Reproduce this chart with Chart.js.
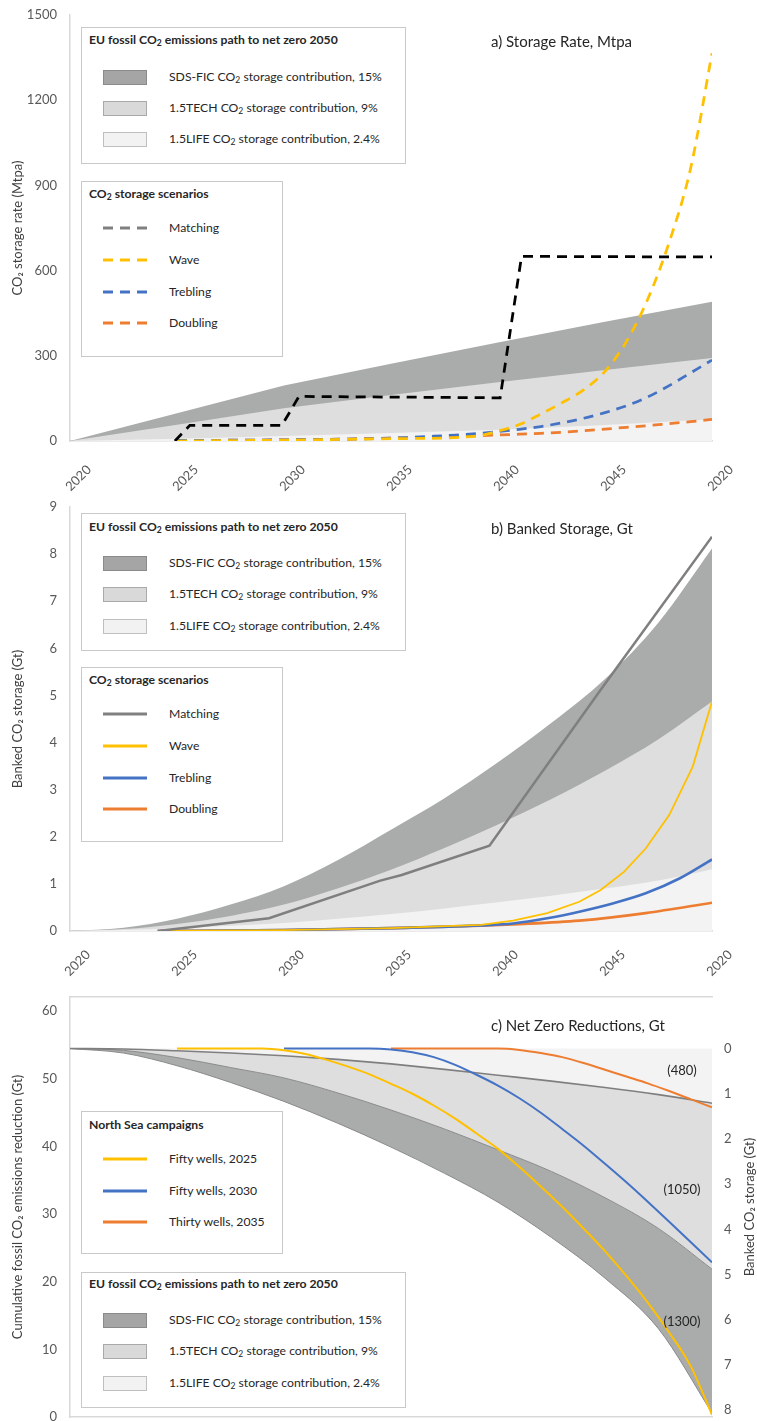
<!DOCTYPE html>
<html>
<head>
<meta charset="utf-8">
<script src="https://cdn.jsdelivr.net/npm/chart.js@4.4.1/dist/chart.umd.min.js"></script>
<style>
  body { margin: 0; background: #fff; }
  #wrap { position: relative; width: 757px; height: 1421px; overflow: hidden; font-family: Lato, "Open Sans", sans-serif; color: #262626; }
  canvas { position: absolute; left: 0; }
  .box { position: absolute; background: #fff; border: 1px solid #c9c9c9; box-sizing: border-box; font-size: 12.2px; }
  .ttl { position: absolute; left: 7px; font-weight: bold; white-space: nowrap; line-height: 16px; }
  .sw { position: absolute; left: 21px; width: 44px; height: 15px; box-sizing: border-box; }
  .ln { position: absolute; left: 21px; }
  .lbl { position: absolute; left: 87px; white-space: nowrap; line-height: 18px; }
  .ptitle { position: absolute; left: 491px; font-size: 15px; white-space: nowrap; }
  sub { font-size: 70%; vertical-align: -2px; line-height: 0; }
</style>
</head>
<body>
<div id="wrap">
  <canvas id="chartA" width="757" height="495" style="top:0"></canvas>
  <canvas id="chartB" width="757" height="485" style="top:495px"></canvas>
  <canvas id="chartC" width="757" height="441" style="top:980px"></canvas>
  <div class="ptitle" style="top:32px">a) Storage Rate, Mtpa</div>
  <div class="ptitle" style="top:519px">b) Banked Storage, Gt</div>
  <div class="ptitle" style="top:1016px">c) Net Zero Reductions, Gt</div>
</div>
<script>
// ---- a) storage rate, Mtpa ----
const rateYears = [2020, 2025, 2030, 2035, 2040, 2045, 2050];
const rateSDS  = [0, 98, 195, 272, 347, 420, 490];
const rateTECH = [0, 57, 115, 162, 207, 250, 292];
const rateLIFE = [0, 8, 18, 28, 40, 56, 77];

const matchRateYears = [2024.9, 2025.6, 2029.9, 2030.7, 2040.1, 2041.1, 2050];
const matchRate      = [0, 55, 55, 157, 152, 650, 648];
const waveRateYears  = [2025, 2030, 2035, 2039, 2040, 2041, 2042, 2043, 2044, 2045, 2046, 2047, 2048, 2049, 2050];
const waveRate       = [0, 3, 8, 17, 35, 58, 95, 135, 180, 245, 350, 500, 700, 960, 1365];
const trebRateYears  = [2025, 2030, 2035, 2036, 2037, 2038, 2039, 2040, 2041, 2042, 2043, 2044, 2045, 2046, 2047, 2048, 2049, 2050];
const trebRate       = [2, 4, 10, 13, 17, 21, 26, 33, 41, 51, 64, 80, 100, 124, 155, 195, 240, 285];
const doubRateYears  = [2025, 2030, 2035, 2040, 2041, 2042, 2043, 2044, 2045, 2046, 2047, 2048, 2049, 2050];
const doubRate       = [2, 4, 10, 21, 24, 27, 31, 36, 42, 48, 54, 61, 68, 76];

// ---- b) banked storage, Gt ----
const bankYears = [2020, 2022.5, 2025, 2027.5, 2030, 2032.5, 2035, 2037.5, 2040, 2042.5, 2045, 2047.5, 2050];
const bankSDS  = [0, 0.07, 0.26, 0.56, 0.95, 1.5, 2.15, 2.82, 3.58, 4.42, 5.35, 6.55, 8.12];
const bankTECH = [0, 0.04, 0.15, 0.32, 0.56, 0.9, 1.3, 1.76, 2.26, 2.8, 3.4, 4.07, 4.87];
const bankLIFE = [0, 0.02, 0.06, 0.11, 0.17, 0.26, 0.36, 0.48, 0.61, 0.75, 0.9, 1.07, 1.31];

const matchBankYears = [2024.1, 2029.3, 2034.5, 2035.5, 2039.6, 2044.8, 2050];
const matchBank      = [0, 0.27, 1.07, 1.19, 1.81, 5.12, 8.37];
const waveBankYears  = [2024.1, 2030, 2035, 2039.2, 2040.7, 2042.3, 2043.8, 2044.8, 2045.9, 2046.9, 2048, 2049.1, 2050];
const waveBank       = [0, 0.02, 0.06, 0.13, 0.22, 0.38, 0.62, 0.87, 1.26, 1.75, 2.46, 3.49, 4.87];
const trebBankYears  = [2024.1, 2030, 2035, 2039.2, 2040.7, 2042.3, 2043.8, 2045.4, 2046.9, 2048.5, 2050];
const trebBank       = [0, 0.02, 0.06, 0.12, 0.16, 0.27, 0.41, 0.59, 0.8, 1.12, 1.52];
const doubBankYears  = [2024.1, 2030, 2035, 2039.2, 2040.7, 2043.8, 2046.9, 2050];
const doubBank       = [0, 0.02, 0.06, 0.11, 0.14, 0.22, 0.38, 0.6];

// ---- c) net zero reductions (plotted as banked Gt on the right axis) ----
const pathYears = [2020, 2022.5, 2025, 2027.5, 2030, 2032.5, 2035, 2037.5, 2040, 2042.5, 2045, 2047.5, 2050];
const pathTop  = [0, 0, 0, 0, 0, 0, 0, 0, 0, 0, 0, 0, 0];
const pathLIFE = [0, 0.01, 0.05, 0.1, 0.16, 0.24, 0.34, 0.46, 0.59, 0.72, 0.86, 1.02, 1.21];
const pathTECH = [0, 0.04, 0.2, 0.42, 0.65, 0.98, 1.36, 1.78, 2.24, 2.72, 3.3, 3.98, 4.88];
const pathSDS  = [0, 0.1, 0.38, 0.75, 1.17, 1.65, 2.18, 2.76, 3.4, 4.18, 5.08, 6.2, 8.06];

const wells2025Years = [2025, 2026, 2027, 2028, 2029, 2030, 2031, 2032, 2033, 2034, 2035, 2036, 2037, 2038, 2039, 2040, 2041, 2042, 2043, 2044, 2045, 2046, 2047, 2048, 2049, 2050];
const wells2025 = [0, 0, 0, 0, 0, 0.04, 0.12, 0.25, 0.4, 0.57, 0.78, 1.0, 1.26, 1.55, 1.88, 2.22, 2.62, 3.05, 3.5, 3.98, 4.48, 5.03, 5.62, 6.28, 7.02, 8.1];
const wells2030Years = [2030, 2031, 2032, 2033, 2034, 2035, 2036, 2037, 2038, 2039, 2040, 2041, 2042, 2043, 2044, 2045, 2046, 2047, 2048, 2049, 2050];
const wells2030 = [0, 0, 0, 0, 0, 0.02, 0.08, 0.19, 0.36, 0.58, 0.82, 1.1, 1.42, 1.78, 2.15, 2.55, 2.96, 3.39, 3.83, 4.28, 4.73];
const wells2035Years = [2035, 2036, 2037, 2038, 2039, 2040, 2041, 2042, 2043, 2044, 2045, 2046, 2047, 2048, 2049, 2050];
const wells2035 = [0, 0, 0, 0, 0, 0, 0.03, 0.1, 0.19, 0.32, 0.47, 0.62, 0.77, 0.94, 1.12, 1.3];

const noteLabels = ['(480)', '(1050)', '(1300)'];
const noteYear = 2048.6;
const noteGt = [0.5, 3.13, 6.04];

const xTickYears = [2020, 2025, 2030, 2035, 2040, 2045, 2050];
const xTickText  = ['2020', '2025', '2030', '2035', '2040', '2045', '2020'];
const leftTicksA = [0, 300, 600, 900, 1200, 1500];
const leftTicksB = [0, 1, 2, 3, 4, 5, 6, 7, 8, 9];
const leftTicksC = [0, 10, 20, 30, 40, 50, 60];
const rightTicksC = [0, 1, 2, 3, 4, 5, 6, 7, 8];

const FONT = 'Lato, "Open Sans", sans-serif';
const DARK = '#a9acab', LIGHT = '#dedede', LIGHTEST = '#f3f3f3';
const YELLOW = '#ffc000', BLUE = '#4472c4', ORANGE = '#ed7d31', GREY = '#7f7f7f';
const AXIS = '#d9d9d9';

Chart.defaults.font.family = FONT;
Chart.defaults.font.size = 13;
Chart.defaults.color = '#595959';

const pts = (xs, ys) => xs.map((x, i) => ({ x: x, y: ys[i] }));

function area(label, xs, ys, color, order, fill, extra) {
  return Object.assign({
    label: label, data: pts(xs, ys), backgroundColor: color, borderWidth: 0,
    pointRadius: 0, fill: fill, order: order, cubicInterpolationMode: 'monotone'
  }, extra || {});
}
function line(label, xs, ys, color, width, order, extra) {
  return Object.assign({
    label: label, data: pts(xs, ys), borderColor: color, borderWidth: width,
    pointRadius: 0, fill: false, order: order, cubicInterpolationMode: 'monotone'
  }, extra || {});
}

function fixTicks(list) {
  return s => { s.ticks = list.map(v => ({ value: v })); };
}

function xAxis(height, pad, offset) {
  return {
    type: 'linear', min: 2020, max: 2050,
    grid: { display: false, drawTicks: false },
    border: { color: AXIS, width: 1.5 },
    afterBuildTicks: fixTicks(xTickYears),
    ticks: {
      autoSkip: false, minRotation: 45, maxRotation: 45, padding: pad, labelOffset: offset,
      callback: v => xTickText[xTickYears.indexOf(v)]
    },
    afterFit: s => { s.height = height; s.paddingLeft = 0; s.paddingRight = 0; }
  };
}

function yAxis(min, max, ticks, title) {
  return {
    type: 'linear', position: 'left', min: min, max: max,
    grid: { display: false, drawTicks: false },
    border: { color: AXIS, width: 1.5 },
    afterBuildTicks: fixTicks(ticks),
    ticks: { padding: 13, callback: v => String(v) },
    title: { display: true, text: title, color: '#404040', font: { size: 13 }, padding: { top: 10, bottom: 0 } },
    afterFit: s => { s.width = 70; s.paddingTop = 0; s.paddingBottom = 0; }
  };
}

const baseOpts = {
  responsive: false, animation: false, devicePixelRatio: 1,
  plugins: { legend: { display: false }, tooltip: { enabled: false } },
  elements: { line: { borderCapStyle: 'butt' } }
};

// panel a
new Chart(document.getElementById('chartA'), {
  type: 'line',
  data: {
    datasets: [
      line('Matching', matchRateYears, matchRate, '#000', 2.75, 0, { borderDash: [10, 7], cubicInterpolationMode: 'default', tension: 0 }),
      line('Wave', waveRateYears, waveRate, YELLOW, 2.75, 1, { borderDash: [10, 7] }),
      line('Trebling', trebRateYears, trebRate, BLUE, 2.75, 2, { borderDash: [10, 7] }),
      line('Doubling', doubRateYears, doubRate, ORANGE, 2.75, 3, { borderDash: [10, 7] }),
      area('1.5LIFE', rateYears, rateLIFE, LIGHTEST, 4, 'origin', { cubicInterpolationMode: 'default', tension: 0 }),
      area('1.5TECH', rateYears, rateTECH, LIGHT, 5, 'origin', { cubicInterpolationMode: 'default', tension: 0 }),
      area('SDS-FIC', rateYears, rateSDS, DARK, 6, 'origin', { cubicInterpolationMode: 'default', tension: 0 })
    ]
  },
  options: Object.assign({}, baseOpts, {
    layout: { padding: { top: 15, right: 45, left: 0, bottom: 0 } },
    scales: {
      x: xAxis(54, 21, 19),
      y: yAxis(0, 1500, leftTicksA, 'CO₂ storage rate (Mtpa)')
    }
  })
});

// panel b
new Chart(document.getElementById('chartB'), {
  type: 'line',
  data: {
    datasets: [
      line('Matching', matchBankYears, matchBank, GREY, 2.5, 0, { cubicInterpolationMode: 'default', tension: 0 }),
      line('Wave', waveBankYears, waveBank, YELLOW, 1.8, 1, { cubicInterpolationMode: 'default', tension: 0 }),
      line('Trebling', trebBankYears, trebBank, BLUE, 2.6, 2),
      line('Doubling', doubBankYears, doubBank, ORANGE, 2.6, 3),
      area('1.5LIFE', bankYears, bankLIFE, LIGHTEST, 4, 'origin'),
      area('1.5TECH', bankYears, bankTECH, LIGHT, 5, 'origin'),
      area('SDS-FIC', bankYears, bankSDS, DARK, 6, 'origin')
    ]
  },
  options: Object.assign({}, baseOpts, {
    layout: { padding: { top: 12, right: 45, left: 0, bottom: 0 } },
    scales: {
      x: xAxis(49, 16, 18),
      y: yAxis(0, 9, leftTicksB, 'Banked CO₂ storage (Gt)')
    }
  })
});

// panel c
const cNotes = {
  id: 'cNotes',
  afterDraw(chart) {
    const { ctx, chartArea } = chart;
    const x = chart.scales.x, yR = chart.scales.yR;
    ctx.save();
    ctx.font = '13px ' + FONT;
    ctx.fillStyle = '#262626';
    ctx.textAlign = 'center';
    ctx.textBaseline = 'middle';
    noteLabels.forEach((t, i) => ctx.fillText(t, x.getPixelForValue(noteYear), yR.getPixelForValue(noteGt[i])));
    ctx.fillStyle = '#404040';
    ctx.translate(chartArea.right + 38, (chartArea.top + chartArea.bottom) / 2);
    ctx.rotate(-Math.PI / 2);
    ctx.fillText('Banked CO₂ storage (Gt)', 0, 0);
    ctx.restore();
  }
};

const edge = { borderColor: '#8a8a8a', borderWidth: 1 };
new Chart(document.getElementById('chartC'), {
  type: 'line',
  data: {
    datasets: [
      area('top', pathYears, pathTop, 'rgba(0,0,0,0)', 7, false, { yAxisID: 'yR' }),
      area('1.5LIFE', pathYears, pathLIFE, LIGHTEST, 4, '-1', { yAxisID: 'yR', borderColor: '#7f7f7f', borderWidth: 1.6 }),
      area('1.5TECH', pathYears, pathTECH, LIGHT, 5, '-1', Object.assign({ yAxisID: 'yR' }, edge)),
      area('SDS-FIC', pathYears, pathSDS, DARK, 6, '-1', Object.assign({ yAxisID: 'yR' }, edge)),
      line('Thirty wells, 2035', wells2035Years, wells2035, ORANGE, 2, 2, { yAxisID: 'yR' }),
      line('Fifty wells, 2030', wells2030Years, wells2030, BLUE, 2, 1, { yAxisID: 'yR' }),
      line('Fifty wells, 2025', wells2025Years, wells2025, YELLOW, 2, 0, { yAxisID: 'yR' })
    ]
  },
  options: Object.assign({}, baseOpts, {
    layout: { padding: { top: 17, right: 0, left: 0, bottom: 4 } },
    scales: {
      x: {
        type: 'linear', position: 'bottom', min: 2020, max: 2050,
        grid: { display: false, drawTicks: false }, ticks: { display: false },
        border: { color: AXIS, width: 1.5 },
        afterFit: s => { s.height = 0; s.paddingLeft = 0; s.paddingRight = 0; }
      },
      xTop: {
        type: 'linear', position: 'top', min: 2020, max: 2050,
        grid: { display: false, drawTicks: false }, ticks: { display: false },
        border: { color: AXIS, width: 1.5 },
        afterFit: s => { s.height = 0; s.paddingLeft = 0; s.paddingRight = 0; }
      },
      yL: yAxis(0, 62.07, leftTicksC, 'Cumulative fossil CO₂ emissions reduction (Gt)'),
      yR: {
        type: 'linear', position: 'right', reverse: true, min: -1.14, max: 8.15,
        grid: { display: false, drawTicks: false },
        border: { display: false },
        afterBuildTicks: fixTicks(rightTicksC),
        ticks: { padding: 12, callback: v => String(v) },
        afterFit: s => { s.width = 45; s.paddingTop = 0; s.paddingBottom = 0; }
      }
    }
  }),
  plugins: [cNotes]
});

// legends
const wrap = document.getElementById('wrap');
const fillItems = [
  { kind: 'fill', fill: '#a5a5a5', edge: '#8a8a8a', label: 'SDS-FIC CO<sub>2</sub> storage contribution, 15%' },
  { kind: 'fill', fill: '#d9d9d9', edge: '#a9a9a9', label: '1.5TECH CO<sub>2</sub> storage contribution, 9%' },
  { kind: 'fill', fill: '#f2f2f2', edge: '#bfbfbf', label: '1.5LIFE CO<sub>2</sub> storage contribution, 2.4%' }
];
const fillTitle = 'EU fossil CO<sub>2</sub> emissions path to net zero 2050';
const scenarioNames = ['Matching', 'Wave', 'Trebling', 'Doubling'];
const scenarioColors = ['#808080', YELLOW, BLUE, ORANGE];
const campaignNames = ['Fifty wells, 2025', 'Fifty wells, 2030', 'Thirty wells, 2035'];
const campaignColors = [YELLOW, BLUE, ORANGE];

function addBox(x, y, w, h, title, ty, items, iy) {
  const d = document.createElement('div');
  d.className = 'box';
  Object.assign(d.style, { left: x + 'px', top: y + 'px', width: w + 'px', height: h + 'px' });
  let html = '<div class="ttl" style="top:' + (ty - 8) + 'px">' + title + '</div>';
  items.forEach((it, i) => {
    const cy = iy[i];
    if (it.kind === 'fill') {
      html += '<div class="sw" style="top:' + (cy - 8) + 'px;background:' + it.fill + ';border:1.5px solid ' + it.edge + '"></div>';
    } else {
      html += '<svg class="ln" style="top:' + (cy - 4) + 'px" width="44" height="6"><line x1="0" y1="3" x2="44" y2="3" stroke="' + it.color +
        '" stroke-width="3"' + (it.kind === 'dash' ? ' stroke-dasharray="10 7"' : '') + '/></svg>';
    }
    html += '<div class="lbl" style="top:' + (cy - 10) + 'px">' + it.label + '</div>';
  });
  d.innerHTML = html;
  wrap.appendChild(d);
}

const scenDash = scenarioNames.map((n, i) => ({ kind: 'dash', color: scenarioColors[i], label: n }));
const scenLine = scenarioNames.map((n, i) => ({ kind: 'line', color: scenarioColors[i], label: n }));
const campLine = campaignNames.map((n, i) => ({ kind: 'line', color: campaignColors[i], label: n }));

addBox(81, 27, 325, 137, fillTitle, 12, fillItems, [50, 81, 112]);
addBox(81, 181, 202, 176, 'CO<sub>2</sub> storage scenarios', 12, scenDash, [47, 79, 111, 142]);
addBox(81, 513, 325, 138, fillTitle, 13, fillItems, [50, 81, 113]);
addBox(81, 667, 202, 175, 'CO<sub>2</sub> storage scenarios', 12, scenLine, [47, 79, 111, 142]);
addBox(81, 1111, 202, 143, 'North Sea campaigns', 13, campLine, [48, 80, 111]);
addBox(81, 1272, 325, 136, fillTitle, 11, fillItems, [48, 79, 111]);
</script>
</body>
</html>
